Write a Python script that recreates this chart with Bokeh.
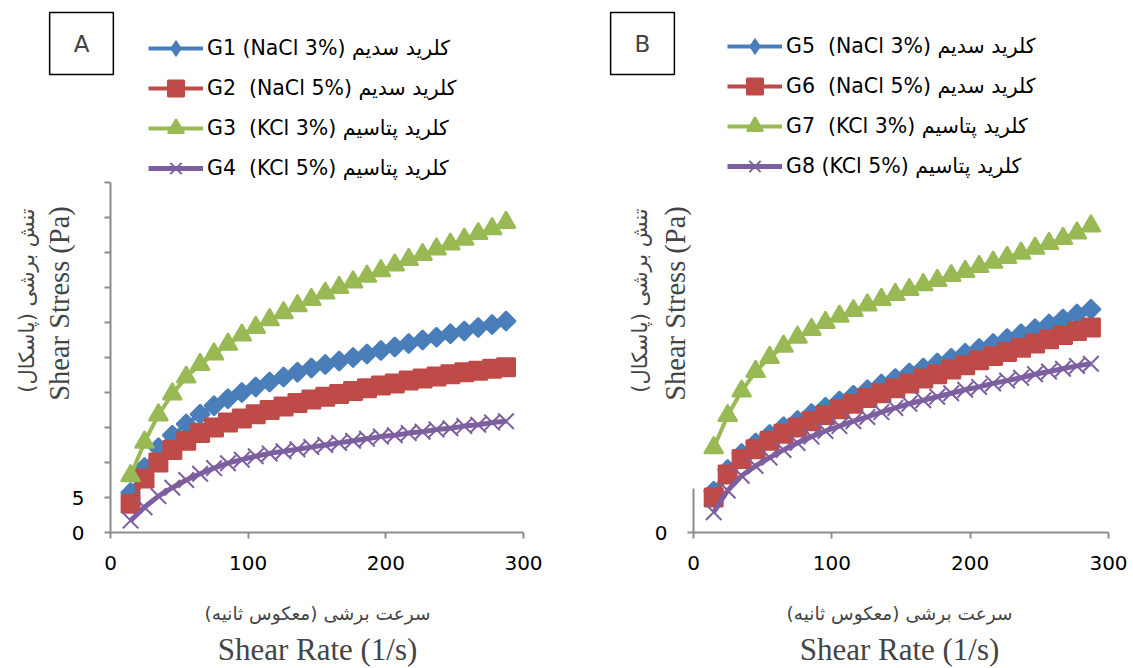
import numpy as np
from bokeh.plotting import figure
from bokeh.models import (Range1d, FixedTicker, Label, Legend, LegendItem, CDSView,
                          IndexFilter, ColumnDataSource)
from bokeh.layouts import row
from bokeh.embed import file_html
from bokeh.resources import INLINE

# ---------------- data ----------------
shear_rate = [14.6, 24.7, 34.8, 44.9, 55.0, 65.1, 75.2, 85.3, 95.4, 105.5,
              115.6, 125.7, 135.8, 145.9, 156.0, 166.1, 176.2, 186.3, 196.4, 206.5,
              216.6, 226.7, 236.8, 246.9, 257.0, 267.1, 277.2, 287.3]

# Panel A
g1 = [5.7, 9.3, 12.1, 13.9, 15.5, 16.9, 18.1, 19.1, 20.0, 20.8, 21.5, 22.2, 22.9, 23.5,
      24.0, 24.5, 25.0, 25.5, 26.0, 26.5, 27.0, 27.5, 27.9, 28.4, 28.8, 29.3, 29.7, 30.2]
g2 = [4.1, 7.7, 10.0, 11.8, 13.1, 14.2, 15.0, 15.7, 16.3, 16.9, 17.5, 18.0, 18.5, 19.0,
      19.4, 19.8, 20.2, 20.6, 21.0, 21.3, 21.7, 22.0, 22.3, 22.6, 22.9, 23.1, 23.4, 23.6]
g3 = [8.1, 12.9, 16.8, 19.8, 22.2, 24.0, 25.5, 26.9, 28.2, 29.3, 30.4, 31.4, 32.4, 33.3,
      34.2, 35.0, 35.8, 36.6, 37.4, 38.2, 39.0, 39.7, 40.5, 41.2, 41.9, 42.7, 43.4, 44.3]
g4 = [1.7, 3.6, 5.2, 6.4, 7.5, 8.4, 9.2, 9.9, 10.4, 10.9, 11.3, 11.6, 11.9, 12.2,
      12.5, 12.8, 13.1, 13.4, 13.7, 13.9, 14.2, 14.4, 14.7, 14.9, 15.2, 15.4, 15.7, 15.9]

# Panel B
g5 = [5.9, 9.0, 11.3, 12.8, 14.0, 15.1, 16.0, 17.0, 17.9, 18.8, 19.6, 20.4, 21.2, 22.0,
      22.8, 23.5, 24.2, 24.9, 25.6, 26.3, 27.0, 27.7, 28.4, 29.1, 29.8, 30.5, 31.2, 31.9]
g6 = [5.0, 8.3, 10.5, 11.9, 13.1, 14.1, 15.0, 15.9, 16.8, 17.6, 18.4, 19.2, 19.9, 20.6,
      21.3, 22.0, 22.6, 23.3, 23.9, 24.6, 25.2, 25.8, 26.4, 27.0, 27.6, 28.2, 28.8, 29.3]
g7 = [12.1, 16.7, 20.2, 23.0, 25.0, 26.6, 27.9, 29.0, 30.0, 30.9, 31.7, 32.5, 33.3, 34.0,
      34.7, 35.4, 36.0, 36.7, 37.3, 38.0, 38.6, 39.3, 39.9, 40.6, 41.3, 42.0, 42.8, 43.8]
g8 = [2.9, 6.0, 8.1, 9.5, 10.7, 11.8, 12.8, 13.7, 14.5, 15.2, 15.9, 16.5, 17.2, 17.8,
      18.4, 18.9, 19.4, 19.9, 20.4, 20.8, 21.3, 21.7, 22.1, 22.6, 23.0, 23.4, 23.8, 24.1]

labels_a = ["G1 (NaCl 3%) کلرید سدیم", "G2  (NaCl 5%) کلرید سدیم",
            "G3  (KCl 3%) کلرید پتاسیم", "G4  (KCl 5%) کلرید پتاسیم"]
labels_b = ["G5  (NaCl 3%) کلرید سدیم", "G6  (NaCl 5%) کلرید سدیم",
            "G7  (KCl 3%) کلرید پتاسیم", "G8 (KCl 5%) کلرید پتاسیم"]

x_ticks = [0, 100, 200, 300]
y_ticks_a = [0, 5, 10, 15, 20, 25, 30, 35, 40, 45, 50]
y_tick_labels_a = ["0", "5", "", "", "", "", "", "", "", "", ""]
y_ticks_b = [0]
y_tick_labels_b = ["0"]

ytitle_en = "Shear Stress (Pa)"
ytitle_fa = "تنش برشی (پاسکال)\u200f"
xtitle_en = "Shear Rate (1/s)"
xtitle_fa = "سرعت برشی (معکوس ثانیه)\u200f"

colors = ["#4A7EBB", "#BE4B48", "#98B954", "#7D5FA0"]
# (plot marker, angle, size, legend marker or None)
markers = [("square", np.pi / 4, 13.5, "diamond"), ("square", 0, 18, None),
           ("triangle", 0, 19, None), ("x", 0, 22, None)]
line_widths = [4, 4, 4, 5]

AXIS_GREY = "#8C8C8C"
H = 668


def make_panel(letter, series, labels, width, plot_left, plot_right, ybounds, yticks, ylabels,
               legend_xy, box_xy, ytitle_en_x, ytitle_fa_x, xtitle_cx):
    # frame spans the whole figure; the axes are pinned at data 0
    plot_bottom, plot_top = 532, 182
    xs = 300 / (plot_right - plot_left)
    ys_ = 50 / (plot_bottom - plot_top)
    xr = Range1d(-plot_left * xs, (width - plot_left) * xs)
    yr = Range1d(-(H - plot_bottom) * ys_, plot_bottom * ys_)
    p = figure(width=width, height=H, x_range=xr, y_range=yr,
               output_backend="svg", toolbar_location=None,
               min_border_left=0, min_border_right=0, min_border_top=0, min_border_bottom=0)
    p.outline_line_color = None
    p.xgrid.visible = False
    p.ygrid.visible = False
    for ax in (p.xaxis[0], p.yaxis[0]):
        ax.fixed_location = 0
        ax.axis_line_color = AXIS_GREY
        ax.axis_line_width = 2
        ax.major_tick_line_color = AXIS_GREY
        ax.major_tick_line_width = 2
        ax.major_tick_out = 6
        ax.major_tick_in = 0
        ax.minor_tick_line_color = None
        ax.major_label_text_font = "DejaVu Sans"
        ax.major_label_text_font_size = "20px"
        ax.major_label_text_color = "black"
    p.xaxis.ticker = FixedTicker(ticks=x_ticks)
    p.xaxis.major_label_standoff = 17
    p.xaxis.bounds = (0, 300)
    p.yaxis.ticker = FixedTicker(ticks=yticks)
    p.yaxis.major_label_overrides = {t: s for t, s in zip(yticks, ylabels)}
    p.yaxis.major_label_standoff = 20
    p.yaxis.bounds = ybounds

    items = []
    for ys, lab, col, (mk, ang, sz, lmk), lw in zip(series, labels, colors, markers, line_widths):
        src = ColumnDataSource(dict(x=shear_rate, y=ys))
        lr = p.line("x", "y", source=src, line_color=col, line_width=lw)
        sr = p.scatter("x", "y", source=src, marker=mk, angle=ang, size=sz,
                       fill_color=col, line_color=col, line_width=2)
        if lmk is not None:
            # legend sample (un-rotated diamond), drawn only at the first point,
            # where it sits hidden inside the rotated square marker
            lg = p.scatter("x", "y", source=src, marker=lmk, size=12,
                           fill_color=col, line_color=col, line_width=1,
                           view=CDSView(filter=IndexFilter(indices=[0])))
            rends = [lr, lg]
        else:
            rends = [lr, sr]
        items.append(LegendItem(label=lab, renderers=rends))

    legend = Legend(items=items, location=legend_xy, orientation="vertical",
                    padding=0, margin=0, spacing=0, glyph_height=40, label_height=40,
                    glyph_width=55, label_standoff=4,
                    label_text_font="DejaVu Sans", label_text_font_size="20.5px",
                    label_text_color="black",
                    border_line_color=None, background_fill_alpha=0)
    p.add_layout(legend, "center")

    # panel letter box
    p.add_layout(Label(x=box_xy[0], y=box_xy[1], x_units="screen", y_units="screen",
                       text=letter, text_font="DejaVu Sans", text_font_size="23px",
                       text_align="center", text_baseline="middle",
                       border_line_color="black", border_line_width=1.5,
                       padding=(24, 18)))

    # y titles
    p.add_layout(Label(x=ytitle_en_x, y=H - 303, x_units="screen", y_units="screen",
                       text=ytitle_en, angle=np.pi / 2, text_font="Liberation Serif",
                       text_font_size="28.5px", text_align="center", text_baseline="middle"))
    p.add_layout(Label(x=ytitle_fa_x, y=H - 300, x_units="screen", y_units="screen",
                       text=ytitle_fa, angle=np.pi / 2, text_font="DejaVu Sans",
                       text_font_size="21px", text_align="center", text_baseline="middle"))
    # x titles
    p.add_layout(Label(x=xtitle_cx, y=H - 613, x_units="screen", y_units="screen",
                       text=xtitle_fa, text_font="DejaVu Sans", text_font_size="18.5px",
                       text_align="center", text_baseline="middle"))
    p.add_layout(Label(x=xtitle_cx, y=H - 649, x_units="screen", y_units="screen",
                       text=xtitle_en, text_font="Liberation Serif", text_font_size="31px",
                       text_align="center", text_baseline="middle"))
    return p


pA = make_panel("A", [g1, g2, g3, g4], labels_a, 583, 110, 523, (0, 50), y_ticks_a, y_tick_labels_a,
                (148, H - 188), (81, H - 43), 59, 26, 317)
pB = make_panel("B", [g5, g6, g7, g8], labels_b, 550, 110, 525, (0, 6.3), y_ticks_b, y_tick_labels_b,
                (144, H - 186), (59, H - 43), 92, 56, 316)

layout = row(pA, pB)
open("out.html", "w").write(file_html(layout, INLINE))
